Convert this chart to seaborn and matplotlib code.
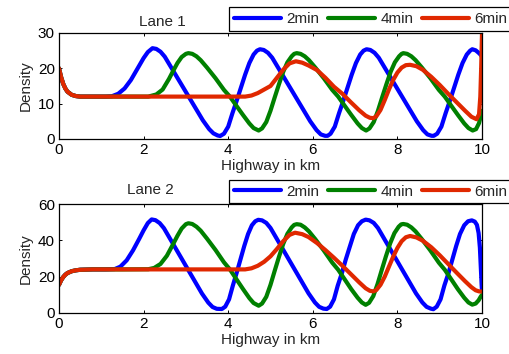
import numpy as np
import pandas as pd
import matplotlib
matplotlib.use("Agg")
import matplotlib.pyplot as plt
import seaborn as sns

# ---------------------------------------------------------------------------
# Data
# ---------------------------------------------------------------------------
TIMES  = ["2min", "4min", "6min"]
COLORS = {"2min": "#0000ff", "4min": "#008000", "6min": "#e02800"}

START_X    = [0, 0.05, 0.1, 0.15, 0.2, 0.3, 0.4, 0.5, 0.8]
L1_START_Y = [20, 17.5, 15.6, 14.3, 13.4, 12.5, 12.15, 12.0, 12.0]
L2_START_Y = [15.5, 18.0, 19.8, 21.1, 22.0, 23.0, 23.5, 23.8, 24.0]

# lane 1
L1_2MIN_X = [1.1, 1.25, 1.4, 1.55, 1.7, 1.85, 2.0, 2.1, 2.21, 2.3, 2.4, 2.5, 2.6, 2.8,
             3.0, 3.2, 3.4, 3.55, 3.65, 3.75, 3.81, 3.9, 4.0, 4.1, 4.2, 4.3, 4.4, 4.5,
             4.6, 4.68, 4.75, 4.84, 4.94, 5.04, 5.14, 5.34, 5.54, 5.74, 5.94, 6.09,
             6.19, 6.29, 6.35, 6.42, 6.52, 6.62, 6.72, 6.82, 6.92, 7.02, 7.12, 7.2,
             7.27, 7.36, 7.46, 7.56, 7.66, 7.86, 8.06, 8.26, 8.46, 8.61, 8.71, 8.81,
             8.86, 8.94, 9.04, 9.14, 9.24, 9.34, 9.44, 9.54, 9.64, 9.72, 9.77, 9.85,
             9.92, 9.97, 10.0]
L1_2MIN_Y = [12.0, 12.1, 12.8, 14.3, 16.7, 19.8, 22.9, 24.6, 25.7, 25.5, 24.7, 23.3,
             21.3, 17.3, 13.3, 9.3, 5.3, 2.8, 1.6, 1.0, 0.85, 1.5, 3.5, 7.3, 10.8,
             14.5, 18.2, 21.5, 23.9, 25.0, 25.4, 25.2, 24.4, 23.0, 21.0, 17.0, 13.0,
             9.0, 5.0, 2.5, 1.3, 0.9, 0.9, 1.5, 3.5, 7.3, 10.8, 14.5, 18.2, 21.5,
             23.9, 25.0, 25.4, 25.2, 24.4, 23.0, 21.0, 17.0, 13.0, 9.0, 5.0, 2.5,
             1.3, 0.9, 0.9, 1.5, 3.5, 7.3, 10.8, 14.5, 18.2, 21.5, 23.9, 25.0, 25.4,
             25.1, 24.4, 23.8, 23.2]

L1_4MIN_X = [1.5, 2.11, 2.3, 2.45, 2.6, 2.7, 2.8, 2.9, 3.0, 3.06, 3.15, 3.25, 3.35,
             3.5, 3.7, 3.9, 4.04, 4.2, 4.35, 4.5, 4.6, 4.72, 4.8, 4.9, 5.0, 5.1, 5.2,
             5.3, 5.4, 5.5, 5.56, 5.62, 5.71, 5.81, 5.91, 6.06, 6.26, 6.46, 6.6, 6.76,
             6.91, 7.06, 7.16, 7.26, 7.34, 7.44, 7.54, 7.64, 7.74, 7.84, 7.94, 8.04,
             8.1, 8.14, 8.23, 8.33, 8.43, 8.58, 8.78, 8.98, 9.12, 9.28, 9.43, 9.58,
             9.68, 9.78, 9.86, 9.93, 9.97, 10.0]
L1_4MIN_Y = [12.0, 12.0, 12.6, 14.0, 17.0, 19.3, 21.5, 23.2, 24.1, 24.3, 24.1, 23.4,
             22.3, 20.2, 17.2, 13.9, 12.0, 9.3, 6.8, 4.4, 3.1, 2.4, 3.0, 4.8, 8.0,
             11.8, 15.5, 19.0, 21.7, 23.4, 24.1, 24.3, 24.1, 23.4, 22.3, 20.2, 17.2,
             13.9, 12.0, 9.3, 6.8, 4.4, 3.1, 2.4, 3.0, 4.8, 8.0, 11.8, 15.5, 19.0,
             21.7, 23.4, 24.1, 24.3, 24.1, 23.4, 22.3, 20.2, 17.2, 13.9, 12.0, 9.3,
             6.8, 4.4, 3.1, 2.4, 2.8, 4.5, 6.5, 8.0]

L1_6MIN_X = [2.0, 3.0, 4.4, 4.55, 4.7, 4.85, 5.0, 5.15, 5.3, 5.45, 5.6, 5.75, 5.9,
             6.1, 6.3, 6.5, 6.7, 6.9, 7.1, 7.25, 7.35, 7.43, 7.5, 7.6, 7.7, 7.8, 7.9,
             8.0, 8.1, 8.2, 8.3, 8.45, 8.6, 8.8, 9.0, 9.2, 9.4, 9.6, 9.75, 9.87, 9.93,
             9.96, 9.98, 10.0]
L1_6MIN_Y = [12.0, 12.0, 12.0, 12.3, 13.0, 14.0, 15.0, 17.3, 19.6, 21.4, 22.0, 21.6,
             20.8, 19.5, 17.3, 14.8, 12.8, 10.4, 8.1, 6.6, 6.0, 5.9, 6.4, 8.2, 11.0,
             14.0, 16.7, 18.8, 20.2, 20.9, 21.0, 20.6, 19.6, 17.6, 15.3, 12.8, 10.4,
             8.0, 6.3, 5.6, 7.0, 12.0, 20.0, 30.0]

# lane 2
L2_2MIN_X = [1.1, 1.32, 1.45, 1.6, 1.75, 1.9, 2.0, 2.1, 2.19, 2.28, 2.38, 2.48, 2.58,
             2.78, 2.98, 3.18, 3.38, 3.53, 3.63, 3.73, 3.85, 3.93, 4.02, 4.11, 4.2,
             4.29, 4.38, 4.47, 4.56, 4.64, 4.71, 4.8, 4.9, 5.0, 5.1, 5.3, 5.5, 5.7,
             5.9, 6.05, 6.15, 6.25, 6.33, 6.41, 6.5, 6.59, 6.69, 6.78, 6.88, 6.97,
             7.07, 7.16, 7.25, 7.34, 7.44, 7.54, 7.64, 7.84, 8.04, 8.24, 8.44, 8.59,
             8.69, 8.79, 8.85, 8.93, 9.02, 9.11, 9.21, 9.3, 9.39, 9.48, 9.58, 9.67,
             9.76, 9.83, 9.88, 9.92, 9.95, 9.97, 9.99, 10.0]
L2_2MIN_Y = [24.0, 24.2, 25.5, 29.0, 34.5, 41.0, 45.5, 49.5, 51.5, 51.1, 49.5, 46.7,
             42.7, 34.7, 26.7, 18.7, 10.7, 5.7, 3.3, 2.3, 2.2, 3.5, 7.5, 15.1, 22.1,
             29.5, 36.9, 43.5, 48.3, 50.5, 51.3, 51.0, 49.6, 46.8, 42.8, 34.8, 26.8,
             18.8, 10.8, 5.8, 3.4, 2.4, 2.2, 3.5, 7.5, 15.1, 22.1, 29.5, 36.9, 43.5,
             48.3, 50.5, 51.4, 51.0, 49.6, 46.8, 42.8, 34.8, 26.8, 18.8, 10.8, 5.8,
             3.4, 2.4, 2.1, 3.5, 7.5, 15.1, 22.1, 29.5, 36.9, 43.5, 48.3, 50.5, 51.0,
             50.3, 48.5, 44.0, 36.0, 26.0, 16.0, 12.0]

L2_4MIN_X = [1.5, 2.11, 2.25, 2.4, 2.55, 2.7, 2.8, 2.9, 3.0, 3.06, 3.15, 3.25, 3.35,
             3.5, 3.7, 3.9, 4.04, 4.2, 4.35, 4.5, 4.6, 4.72, 4.8, 4.9, 5.0, 5.1, 5.2,
             5.3, 5.4, 5.5, 5.56, 5.62, 5.71, 5.81, 5.91, 6.06, 6.26, 6.46, 6.6, 6.76,
             6.91, 7.06, 7.16, 7.25, 7.33, 7.43, 7.53, 7.63, 7.73, 7.83, 7.93, 8.03,
             8.09, 8.14, 8.23, 8.33, 8.43, 8.58, 8.78, 8.98, 9.12, 9.28, 9.43, 9.58,
             9.68, 9.77, 9.85, 9.92, 9.97, 10.0]
L2_4MIN_Y = [24.0, 24.1, 24.8, 27.0, 31.5, 38.0, 42.5, 46.5, 48.9, 49.4, 49.0, 47.5,
             45.3, 40.9, 34.7, 27.9, 24.0, 18.4, 13.2, 8.2, 5.5, 4.0, 5.2, 8.9, 15.5,
             23.3, 30.9, 38.0, 43.6, 47.1, 48.5, 48.9, 48.6, 47.1, 44.9, 40.6, 34.4,
             27.7, 23.8, 18.3, 13.1, 8.4, 5.8, 4.5, 5.6, 9.3, 15.9, 23.7, 31.3, 38.4,
             44.0, 47.5, 48.8, 49.0, 48.6, 47.1, 44.9, 40.6, 34.4, 27.7, 23.8, 18.3,
             13.1, 8.4, 5.8, 4.6, 5.2, 7.0, 9.0, 10.0]

L2_6MIN_X = [2.0, 3.0, 4.4, 4.55, 4.7, 4.85, 5.0, 5.15, 5.3, 5.45, 5.58, 5.75, 5.9,
             6.1, 6.3, 6.5, 6.7, 6.9, 7.1, 7.25, 7.35, 7.43, 7.5, 7.6, 7.7, 7.8, 7.9,
             8.0, 8.1, 8.2, 8.3, 8.45, 8.6, 8.8, 9.0, 9.2, 9.4, 9.6, 9.75, 9.85, 9.93,
             10.0]
L2_6MIN_Y = [24.0, 24.0, 24.0, 24.6, 26.0, 28.2, 31.2, 35.2, 39.5, 43.0, 44.2, 43.4,
             41.8, 38.5, 34.6, 30.4, 26.0, 21.4, 16.8, 13.6, 12.2, 11.9, 12.6, 15.5,
             20.0, 25.5, 31.0, 35.8, 39.5, 41.7, 42.4, 41.6, 39.8, 36.2, 31.8, 27.0,
             22.2, 17.5, 14.2, 12.5, 11.9, 11.8]

L1_YTICKS = [0, 10, 20, 30]
L2_YTICKS = [0, 20, 40, 60]
XTICKS    = [0, 2, 4, 6, 8, 10]


def lane_frame(start_y, series):
    rows = []
    for t, (xs, ys) in zip(TIMES, series):
        for x, y in zip(START_X + xs, start_y + ys):
            rows.append({"km": x, "density": y, "time": t})
    return pd.DataFrame(rows)


df1 = lane_frame(L1_START_Y, [(L1_2MIN_X, L1_2MIN_Y), (L1_4MIN_X, L1_4MIN_Y),
                              (L1_6MIN_X, L1_6MIN_Y)])
df2 = lane_frame(L2_START_Y, [(L2_2MIN_X, L2_2MIN_Y), (L2_4MIN_X, L2_4MIN_Y),
                              (L2_6MIN_X, L2_6MIN_Y)])

# ---------------------------------------------------------------------------
# Plot
# ---------------------------------------------------------------------------
sns.set_theme(style="ticks")
plt.rcParams["font.family"] = ["Liberation Sans", "DejaVu Sans"]
FS = 11

W, H = 510, 354
fig = plt.figure(figsize=(W / 100, H / 100), dpi=100)


def px_axes(x0, y0, x1, y1):
    return fig.add_axes([x0 / W, 1 - y1 / H, (x1 - x0) / W, (y1 - y0) / H])


panels = [
    (px_axes(59, 33, 482, 139), df1, L1_YTICKS, "Lane 1", 162, 22, 19),
    (px_axes(59, 204, 482, 313), df2, L2_YTICKS, "Lane 2", 150, 190, 191.5),
]

for ax, df, yticks, title, tx, ty, ly in panels:
    sns.lineplot(data=df, x="km", y="density", hue="time", palette=COLORS,
                 hue_order=TIMES, estimator=None, linewidth=3, legend=False, ax=ax)
    ax.set_xlim(0, 10)
    ax.set_ylim(yticks[0], yticks[-1])
    ax.set_xticks(XTICKS)
    ax.set_yticks(yticks)
    ax.tick_params(direction="in", length=2.5, width=0.7, top=True, right=True,
                   labelsize=FS, pad=3, colors="black")
    for sp in ax.spines.values():
        sp.set_visible(True)
        sp.set_linewidth(0.9)
        sp.set_color("black")
    ax.set_xlabel("Highway in km", fontsize=FS, labelpad=1)
    ax.set_ylabel("Density", fontsize=FS, labelpad=4)
    fig.text(tx / W, 1 - ty / H, title, ha="center", va="center", fontsize=FS)
    ax.legend(handles=ax.lines[:3], labels=TIMES, ncol=3, loc="center",
              bbox_to_anchor=(370.5 / W, 1 - ly / H), bbox_transform=fig.transFigure,
              frameon=True, fancybox=False, edgecolor="black", framealpha=1,
              fontsize=FS, handlelength=3.1, handletextpad=0.35,
              columnspacing=0.55, borderpad=0.3, borderaxespad=0)
    ax.get_legend().get_frame().set_linewidth(0.9)

fig.savefig("out.png", dpi=100)
